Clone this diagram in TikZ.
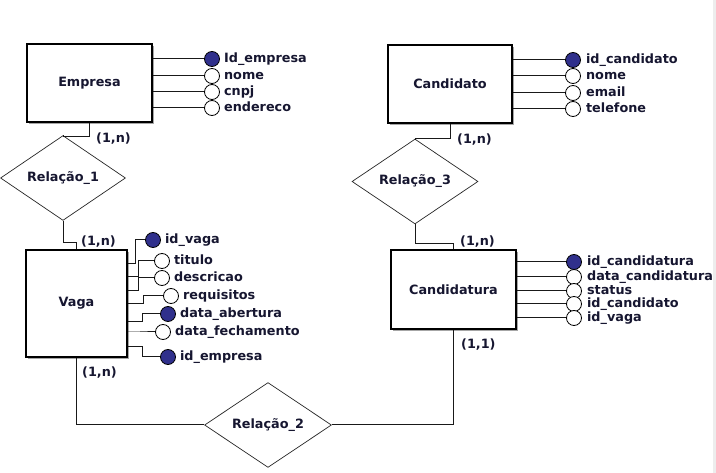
\documentclass[tikz,border=0pt]{standalone}
\usepackage{fontspec}
\setmainfont{DejaVu Sans}
\usepackage{tikz}
\usetikzlibrary{shapes.geometric, positioning, shadows}
\definecolor{ertext}{RGB}{22,22,48}
\definecolor{erkey}{RGB}{48,48,140}
\definecolor{erline}{RGB}{25,25,25}
\newcommand{\erfont}{\bfseries\fontsize{12.8}{14}\selectfont\color{ertext}}
\tikzset{
  entity/.style={rectangle, draw=black, fill=white, line width=1.3pt, font=\erfont,
    general shadow={fill=black!35, shadow xshift=1.6pt, shadow yshift=-1.6pt}},
  relation/.style={diamond, draw=black!85, fill=white, line width=0.7pt, inner sep=0pt,
    font=\erfont},
  line/.style={line width=1pt, color=erline}
}

\begin{document}
\begin{tikzpicture}[x=1pt, y=-1pt,
  attr/.style={circle, draw=black, fill=white, line width=0.8pt, minimum size=15pt, inner sep=0pt},
  keyattr/.style={attr, fill=erkey},
  attrtext/.style={font=\erfont, inner sep=0pt, text height=9pt, text depth=2.5pt, anchor=west},
  card/.style={font=\erfont, inner sep=0pt, text height=9pt, text depth=2.5pt, anchor=west}
]
\useasboundingbox (0,0) rectangle (716,473);
\fill[black!7] (713,0) rectangle (716,473);

\node[entity, minimum width=125pt, minimum height=78pt] (Empresa) at (89.5,83) {Empresa};
\node[entity, minimum width=124pt, minimum height=78pt] (Candidato) at (450,84) {Candidato};
\node[entity, minimum width=101pt, minimum height=107pt] (Vaga) at (76.5,303.5) {Vaga};
\node[entity, minimum width=125pt, minimum height=79pt] (Candidatura) at (453.5,289.5) {Candidatura};

\node[relation, minimum width=125pt, minimum height=61pt] (R1) at (63,178) {Relação\_1};
\node[relation, minimum width=127pt, minimum height=64pt] (R2) at (268,425) {Relação\_2};
\node[relation, minimum width=126pt, minimum height=63pt] (R3) at (415,181.5) {Relação\_3};

\foreach \i/\yy/\lbl/\kind in {1/59/Id\_empresa/keyattr, 2/76/nome/attr, 3/92/cnpj/attr, 4/108/endereco/attr} {
  \node[\kind] (EA\i) at (212,\yy) {};
  \node[attrtext, right=4pt of EA\i] (ET\i) {\lbl};
  \draw[line] (Empresa.east |- EA\i) -- (EA\i);
}

\foreach \i/\yy/\lbl/\kind in {1/60/id\_candidato/keyattr, 2/76/nome/attr, 3/93/email/attr, 4/109/telefone/attr} {
  \node[\kind] (CA\i) at (573,\yy) {};
  \node[attrtext, right=5pt of CA\i] (CT\i) {\lbl};
  \draw[line] (Candidato.east |- CA\i) -- (CA\i);
}

\foreach \i/\yy/\lbl/\kind in {1/262/id\_candidatura/keyattr, 2/277/data\_candidatura/attr,
    3/291/status/attr, 4/304/id\_candidato/attr, 5/318/id\_vaga/attr} {
  \node[\kind] (DA\i) at (574,\yy) {};
  \node[attrtext, right=5pt of DA\i] (DT\i) {\lbl};
  \draw[line] (Candidatura.east |- DA\i) -- (DA\i);
}

\foreach \i/\cx/\cy/\ly/\bx/\lbl/\kind in {1/153/240/264/135/id\_vaga/keyattr,
    2/162/261/277/138/titulo/attr, 3/162/278/291/138/descricao/attr,
    4/171/296/304/143/requisitos/attr, 5/168/314/322/142/data\_abertura/keyattr,
    6/163/332/332/140/data\_fechamento/attr, 7/168/357/347/142/id\_empresa/keyattr} {
  \node[\kind] (VA\i) at (\cx,\cy) {};
  \node[attrtext, right=4pt of VA\i] (VT\i) {\lbl};
  \coordinate (VB\i) at (\bx,\ly);
  \draw[line] (Vaga.east |- VB\i) -- (VB\i) |- (VA\i);
}

\draw[line] (Empresa.south) -- ++(0,14) -| (R1.north);
\draw[line] (R1.south) -- ++(0,22) -| (Vaga.north);
\draw[line] (Vaga.south) |- (R2.west);
\draw[line] (R2.east) -| (Candidatura.south);
\draw[line] (Candidato.south) -- ++(0,15) -| (R3.north);
\draw[line] (R3.south) -- ++(0,19) -| (Candidatura.north);

\node[card] (K1) at (96,139) {(1,n)};
\node[card] (K2) at (81,242) {(1,n)};
\node[card] (K3) at (82,373) {(1,n)};
\node[card] (K4) at (457,140) {(1,n)};
\node[card] (K5) at (460,242) {(1,n)};
\node[card] (K6) at (461,345) {(1,1)};
\end{tikzpicture}
\end{document}
